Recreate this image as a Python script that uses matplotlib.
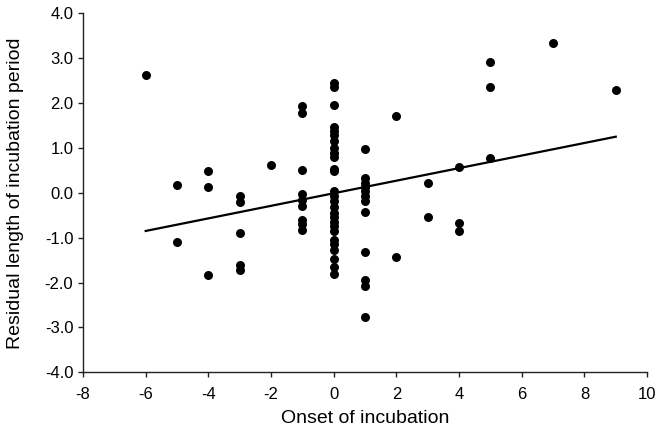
import numpy as np
import matplotlib
matplotlib.use("Agg")
import matplotlib.pyplot as plt
from matplotlib.ticker import FormatStrFormatter

plt.rcParams['font.family'] = ['Liberation Sans', 'DejaVu Sans']
plt.rcParams['axes.unicode_minus'] = False

# Onset of incubation (x) and residual length of incubation period (y)
onset = [-6,
         -5, -5,
         -4, -4, -4,
         -3, -3, -3, -3, -3,
         -2,
         -1, -1, -1, -1, -1, -1, -1, -1, -1,
         0, 0, 0, 0, 0, 0, 0, 0, 0, 0, 0, 0,
         0, 0, 0, 0, 0, 0, 0, 0, 0,
         0, 0, 0, 0, 0, 0,
         1, 1, 1, 1, 1, 1, 1, 1, 1, 1, 1, 1,
         2, 2,
         3, 3,
         4, 4, 4,
         5, 5, 5,
         7,
         9]
residual = [2.63,
            0.17, -1.10,
            0.49, 0.12, -1.83,
            -0.08, -0.20, -0.89, -1.61, -1.72,
            0.63,
            1.93, 1.77, 0.51, -0.02, -0.15, -0.30, -0.60, -0.70, -0.82,
            2.44, 2.35, 1.95, 1.47, 1.38, 1.28, 1.15, 0.99, 0.88, 0.79, 0.54, 0.48,
            0.05, -0.08, -0.18, -0.32, -0.45, -0.55, -0.65, -0.75, -0.85,
            -1.05, -1.15, -1.28, -1.48, -1.65, -1.80,
            0.97, 0.32, 0.22, 0.12, 0.03, -0.08, -0.18, -0.42, -1.32, -1.95, -2.08, -2.76,
            1.72, -1.42,
            0.21, -0.55,
            0.58, -0.68, -0.84,
            2.92, 2.35, 0.78,
            3.33,
            2.29]

# regression line
fit_x = [-6, 9]
fit_slope = 0.14
fit_intercept = -0.01

fig = plt.figure(figsize=(6.61, 4.37), dpi=100)
ax = fig.add_axes([0.1256, 0.148, 0.8534, 0.8216])

ax.scatter(onset, residual, s=42, color='black', zorder=3, linewidths=0)
fx = np.array(fit_x)
ax.plot(fx, fit_slope * fx + fit_intercept, color='black', linewidth=1.6)

ax.set_xlim(-8, 10)
ax.set_ylim(-4, 4)
ax.set_xticks(np.arange(-8, 11, 2))
ax.set_yticks(np.arange(-4, 4.1, 1))
ax.yaxis.set_major_formatter(FormatStrFormatter('%.1f'))

ax.spines['top'].set_visible(False)
ax.spines['right'].set_visible(False)
for s in ('left', 'bottom'):
    ax.spines[s].set_linewidth(1.0)
    ax.spines[s].set_color('#222222')
ax.tick_params(direction='out', length=3.5, width=1.0, labelsize=12, color='#222222')
ax.tick_params(axis='y', pad=3.5)
ax.tick_params(axis='x', pad=7)

ax.set_xlabel('Onset of incubation', fontsize=14)
ax.set_ylabel('Residual length of incubation period', fontsize=14, va='center')
ax.xaxis.set_label_coords(0.5, -0.105)
ax.yaxis.set_label_coords(-0.12, 0.5)

fig.savefig('out.png', dpi=100)
